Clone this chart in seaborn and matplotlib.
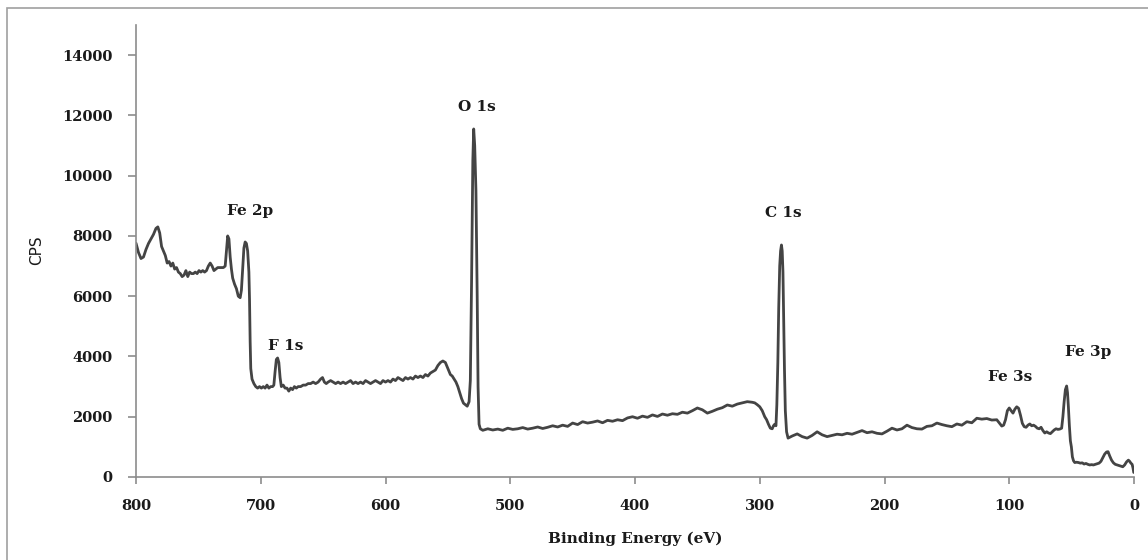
import matplotlib
matplotlib.use("Agg")
import matplotlib.pyplot as plt
import seaborn as sns
import pandas as pd
from matplotlib.patches import Rectangle

# ---- Survey spectrum, segment by segment ----
# Segment A: 800-705 eV (Fe 2p region)
energy_a = [800, 798, 796, 794, 792, 790, 788, 786, 784, 782.5,
            781, 779.5, 778, 776.5, 775, 773.5, 772, 770.5, 769, 767.5,
            766, 764.5, 763, 761.5, 760, 758.5, 757, 755.5, 754, 752.5,
            751, 749.5, 748, 746.5, 745, 743.5, 742, 740.5, 739, 737.5,
            736, 734.5, 733, 731.5, 730, 728.5, 727.5, 726.5, 725.5, 724.5,
            723.5, 722.5, 721, 719.5, 718, 716.5, 715.5, 714.5, 713.5, 712.5,
            711.5, 710.5, 709.5, 709, 708.5, 708, 707, 705.5]
cps_a = [7760, 7450, 7250, 7300, 7550, 7750, 7900, 8050, 8250, 8300,
         8100, 7650, 7500, 7350, 7100, 7150, 7000, 7100, 6900, 6950,
         6800, 6750, 6650, 6700, 6850, 6650, 6800, 6750, 6750, 6800,
         6750, 6850, 6800, 6850, 6800, 6850, 7000, 7100, 7000, 6850,
         6900, 6950, 6950, 6950, 6950, 7000, 7500, 8000, 7900, 7300,
         6900, 6600, 6400, 6250, 6000, 5950, 6200, 6900, 7600, 7800,
         7750, 7500, 6800, 5900, 4500, 3600, 3250, 3100]

# Segment B: 704-560 eV (F 1s region and plateau)
energy_b = [704, 702.5, 701, 699.5, 698, 696.5, 695, 693.5, 692, 690.5,
            689.5, 688.5, 687.5, 686.5, 685.5, 684.5, 683.5, 682, 680.5, 679,
            677.5, 676, 674.5, 673, 671.5, 670, 668, 666, 664, 662,
            660, 658, 656, 654, 652, 650.5, 649, 647.5, 646, 644,
            642, 640, 638, 636, 634, 632, 630, 628, 626, 624,
            622, 620, 618, 616, 614, 612, 610, 608, 606, 604,
            602, 600, 598, 596, 594, 592, 590, 588, 586, 584,
            582, 580, 578, 576, 574, 572, 570, 568, 566, 564,
            562, 560]
cps_b = [3000, 2950, 3000, 2950, 3000, 2950, 3050, 2950, 3000, 3000,
         3050, 3500, 3900, 3950, 3800, 3300, 3000, 3050, 2950, 2950,
         2850, 2950, 2900, 3000, 2950, 3000, 3000, 3050, 3050, 3100,
         3100, 3150, 3100, 3150, 3250, 3300, 3150, 3100, 3150, 3200,
         3150, 3100, 3150, 3100, 3150, 3100, 3150, 3200, 3100, 3150,
         3100, 3150, 3100, 3200, 3150, 3100, 3150, 3200, 3150, 3100,
         3200, 3150, 3200, 3150, 3250, 3200, 3300, 3250, 3200, 3300,
         3250, 3300, 3250, 3350, 3300, 3350, 3300, 3400, 3350, 3450,
         3500, 3550]

# Segment C: 558-524 eV (O 1s)
energy_c = [558, 556, 554, 552, 550, 548, 546.5, 545, 543.5, 542,
            540.5, 539, 537.5, 536, 534.5, 533, 532, 531, 530, 529.3,
            528.5, 527.5, 526.5, 525.8, 525, 524]
cps_c = [3700, 3800, 3850, 3800, 3600, 3400, 3350, 3250, 3150, 3000,
         2800, 2600, 2450, 2400, 2350, 2500, 3200, 6500, 10500, 11550,
         11000, 9500, 6000, 3000, 1750, 1600]

# Segment D: 522-306 eV (rising background)
energy_d = [522, 518, 514, 510, 506, 502, 498, 494, 490, 486,
            482, 478, 474, 470, 466, 462, 458, 454, 450, 446,
            442, 438, 434, 430, 426, 422, 418, 414, 410, 406,
            402, 398, 394, 390, 386, 382, 378, 374, 370, 366,
            362, 358, 354, 350, 346, 342, 338, 334, 330, 326,
            322, 318, 314, 310, 306]
cps_d = [1550, 1600, 1560, 1590, 1550, 1620, 1580, 1600, 1640, 1590,
         1620, 1660, 1610, 1650, 1700, 1660, 1720, 1680, 1790, 1740,
         1835, 1790, 1820, 1860, 1800, 1880, 1850, 1900, 1870, 1960,
         2000, 1950, 2020, 1980, 2060, 2010, 2090, 2050, 2100, 2080,
         2150, 2120, 2200, 2290, 2230, 2120, 2180, 2250, 2300, 2390,
         2350, 2420, 2460, 2500, 2480]

# Segment E: 304-277 eV (C 1s)
energy_e = [304, 302, 300, 298, 296, 294.5, 293, 291.5, 290, 289,
            288, 287, 286.3, 285.5, 284.8, 284, 283.3, 282.6, 282, 281.4,
            280.8, 280.2, 279.5, 278.5, 277.3]
cps_e = [2460, 2400, 2330, 2200, 2000, 1900, 1750, 1620, 1600, 1700,
         1750, 1700, 2400, 3800, 5600, 7000, 7500, 7700, 7500, 6800,
         5200, 3600, 2200, 1500, 1290]

# Segment F: 274-106 eV (background)
energy_f = [274, 270, 266, 262, 258, 254, 250, 246, 242, 238,
            234, 230, 226, 222, 218, 214, 210, 206, 202, 198,
            194, 190, 186, 182, 178, 174, 170, 166, 162, 158,
            154, 150, 146, 142, 138, 134, 130, 126, 122, 118,
            114, 110, 106]
cps_f = [1360, 1430, 1340, 1290, 1380, 1500, 1400, 1340, 1380, 1420,
         1400, 1450, 1420, 1480, 1540, 1470, 1500, 1450, 1430, 1520,
         1620, 1560, 1600, 1720, 1640, 1600, 1590, 1680, 1700, 1790,
         1740, 1700, 1670, 1760, 1720, 1835, 1800, 1950, 1920, 1940,
         1890, 1900, 1690]

# Segment G: 104.5-0 eV (Fe 3s, Fe 3p, valence)
energy_g = [104.5, 103, 101.5, 100, 98.5, 97, 95.5, 94, 92.5, 91,
            89.5, 88, 86.5, 85, 83.5, 82, 80.5, 79, 77.5, 76,
            74.5, 73, 71.5, 70, 68.5, 67, 65.5, 64, 62.5, 61,
            59.5, 58, 57, 56, 55, 54, 53.3, 52.6, 51.8, 51,
            50.2, 49.4, 48.5, 47.5, 46, 44.5, 43, 41.5, 40, 38.5,
            37, 35.5, 34, 32.5, 31, 29.5, 28, 26.5, 25, 23.5,
            22, 20.8, 19.5, 18, 16.5, 15, 13.5, 12, 10.5, 9,
            7.5, 6, 4.5, 3.5, 2.5, 1.5, 0.8, 0.2]
cps_g = [1720, 1900, 2200, 2290, 2200, 2120, 2250, 2330, 2280, 2050,
         1780, 1670, 1650, 1720, 1760, 1700, 1720, 1680, 1620, 1600,
         1650, 1540, 1460, 1500, 1460, 1440, 1500, 1560, 1600, 1580,
         1590, 1620, 2000, 2500, 2900, 3020, 2800, 2330, 1700, 1200,
         1000, 670, 540, 480, 490, 480, 460, 470, 430, 450,
         420, 400, 410, 400, 420, 440, 460, 520, 640, 760,
         830, 840, 700, 560, 470, 420, 400, 380, 360, 340,
         400, 500, 560, 520, 460, 420, 300, 150]

# Peak labels
peak_text = ["O 1s", "Fe 2p", "F 1s", "C 1s", "Fe 3s", "Fe 3p"]
peak_x = [526.6, 708.6, 679.8, 281.4, 99.4, 36.9]
peak_y = [12270, 8820, 4350, 8760, 3320, 4150]

x_ticks = [800, 700, 600, 500, 400, 300, 200, 100, 0]
y_ticks = [0, 2000, 4000, 6000, 8000, 10000, 12000, 14000]

energy = energy_a + energy_b + energy_c + energy_d + energy_e + energy_f + energy_g
cps = cps_a + cps_b + cps_c + cps_d + cps_e + cps_f + cps_g
df = pd.DataFrame({"Binding Energy (eV)": energy, "CPS": cps})

sns.set_theme(style="white")
plt.rcParams["font.family"] = ["DejaVu Serif"]

fig = plt.figure(figsize=(11.48, 5.6), dpi=100)
ax = fig.add_axes([136 / 1148, 1 - 477 / 560, (1134 - 136) / 1148, (477 - 25) / 560])

sns.lineplot(data=df, x="Binding Energy (eV)", y="CPS", ax=ax, color="#444444",
             linewidth=2.0, estimator=None, sort=False)

ax.set_xlim(800, 0)
ax.set_ylim(0, 15000)
ax.set_xticks(x_ticks)
ax.set_yticks(y_ticks)
ax.set_xticklabels([str(v) for v in x_ticks], fontsize=10.5, fontweight="bold",
                   color="#1a1a1a")
ax.set_yticklabels([str(v) for v in y_ticks], fontsize=10.5, fontweight="bold",
                   color="#1a1a1a")

for s in ["top", "right"]:
    ax.spines[s].set_visible(False)
for s in ["left", "bottom"]:
    ax.spines[s].set_color("#8c8c8c")
    ax.spines[s].set_linewidth(1.2)

ax.tick_params(axis="y", direction="out", length=6, width=1.2, color="#8c8c8c",
               pad=11, left=True)
ax.tick_params(axis="x", direction="out", length=5, width=1.2, color="#8c8c8c",
               pad=11, bottom=True)
ax.grid(False)

ax.set_xlabel("Binding Energy (eV)", fontsize=11, fontweight="bold", color="#1a1a1a",
              labelpad=13)
ax.set_ylabel("")
fig.text(37 / 1148, 1 - 250 / 560, "CPS", rotation=90, ha="center", va="center",
         fontsize=11, family=["DejaVu Sans"], color="#1a1a1a")

for t, xv, yv in zip(peak_text, peak_x, peak_y):
    ax.text(xv, yv, t, ha="center", va="center", fontsize=11, fontweight="bold",
            color="#1a1a1a")

fig.patches.append(Rectangle((7 / 1148, -0.05), 1.2, 1 - 8 / 560 + 0.05,
                             transform=fig.transFigure, fill=False,
                             edgecolor="#a0a0a0", linewidth=1.2))

fig.savefig("out.png", dpi=100)
